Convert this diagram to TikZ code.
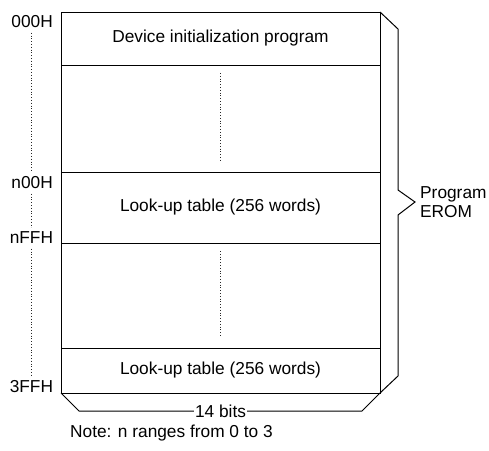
\documentclass[tikz,border=0pt]{standalone}
\usepackage{fontspec}
\setmainfont{Liberation Sans}
\usepackage{tikz}
\usetikzlibrary{positioning, calc}
\definecolor{memline}{RGB}{0,0,0}
\definecolor{dotgray}{RGB}{40,40,40}
\newcommand{\eromfont}{\fontsize{17.3}{19}\selectfont}
\tikzset{
  seg/.style={rectangle, draw=memline, minimum width=319pt,
    outer sep=0pt, inner sep=0pt, line width=1pt, font=\eromfont},
  addr/.style={inner sep=0pt, minimum height=21pt, text width=43pt,
    align=right, font=\eromfont, anchor=east},
  lbl/.style={inner sep=2pt, font=\eromfont, align=left},
  dotline/.style={dotted, line width=0.8pt, color=dotgray},
  line/.style={line width=1pt, color=memline}
}

\begin{document}
\begin{tikzpicture}[x=1pt, y=-1pt]
  \useasboundingbox (0,0) rectangle (489,450);
  % memory blocks, top to bottom
  \node[seg, minimum height=53pt] (init) at (220.5,38.5) {Device initialization program};
  \node[seg, minimum height=107pt, below=0pt of init] (gapa) {};
  \node[seg, minimum height=71pt, below=0pt of gapa] (lutn) {Look-up table (256 words)};
  \node[seg, minimum height=105pt, below=0pt of lutn] (gapb) {};
  \node[seg, minimum height=45pt, below=0pt of gapb] (lutl) {Look-up table (256 words)};
  \draw[dotline] ([yshift=-8pt]gapa.north) -- ([yshift=12pt]gapa.south);
  \draw[dotline] ([yshift=-8pt]gapb.north) -- ([yshift=11pt]gapb.south);
  % addresses
  \node[addr] (a000) at (53,22) {000H};
  \node[addr] (an00) at (53,183) {n00H};
  \node[addr] (anff) at (53,238) {nFFH};
  \node[addr] (a3ff) at (53,387) {3FFH};
  \draw[dotline] (a000) -- (an00);
  \draw[dotline] (an00) -- (anff);
  \draw[dotline] (anff) -- (a3ff);
  % right brace
  \coordinate (tip) at (415,202);
  \draw[line] (init.north east) -- ++(18,17) -- (398,190) -- (tip)
    -- (398,215) -- (398,376) -- (lutl.south east);
  \node[lbl, right=3pt of tip] (erom) {Program\\EROM};
  % bottom brace
  \node[lbl, inner sep=1pt] (bits) at (220.5,411) {14 bits};
  \draw[line] (lutl.south west) -- ++(18,18) -- (bits.west);
  \draw[line] (bits.east) -- (362,411) -- (lutl.south east);
  \node[lbl, anchor=west] (note) at (68,433) {Note: n ranges from 0 to 3};
\end{tikzpicture}
\end{document}
